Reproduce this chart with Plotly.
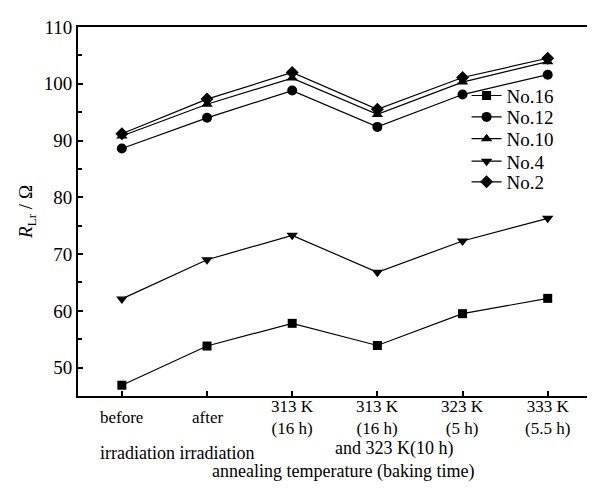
import plotly.graph_objects as go

categories = ["before", "after", "313 K<br>(16 h)", "313 K<br>(16 h)", "323 K<br>(5 h)", "333 K<br>(5.5 h)"]
series_names = ["No.16", "No.12", "No.10", "No.4", "No.2"]
no16 = [46.9, 53.8, 57.8, 53.9, 59.5, 62.2]
no12 = [88.6, 94.0, 98.8, 92.4, 98.1, 101.6]
no10 = [90.8, 96.4, 101.0, 94.6, 100.3, 103.9]
no4 = [62.1, 69.0, 73.3, 66.8, 72.3, 76.3]
no2 = [91.2, 97.3, 102.0, 95.5, 101.1, 104.5]
symbols = ["square", "circle", "triangle-up", "triangle-down", "diamond"]
marker_sizes = [9, 10, 10, 10, 10]
sub_labels = ["irradiation irradiation", "and 323 K(10 h)"]
sub_label_x = [0.65, 3.2]
x_title = "annealing temperature (baking time)"
y_title = "<i>R</i><sub>Lr</sub> / Ω"
y_ticks = [50, 60, 70, 80, 90, 100, 110]

FONT = "Liberation Serif"
xs = list(range(len(categories)))
fig = go.Figure()
legend_rows = [0.814, 0.756, 0.697, 0.636, 0.58]
legend_layout = {}
for i, (name, vals, sym, ms) in enumerate(zip(series_names, [no16, no12, no10, no4, no2], symbols, marker_sizes)):
    lname = "legend" if i == 0 else f"legend{i+1}"
    fig.add_trace(go.Scatter(
        x=xs, y=vals, name=name, mode="lines+markers",
        line=dict(color="black", width=1.2),
        marker=dict(symbol=sym, size=ms, color="black"),
        legend=lname,
    ))
    legend_layout[lname] = dict(x=0.756, y=legend_rows[i], xanchor="left", yanchor="middle",
                                bgcolor="rgba(0,0,0,0)",
                                font=dict(family=FONT, size=19, color="black"))

for x, lab in zip(xs, categories):
    fig.add_annotation(x=x, xref="x", y=-0.057, yref="paper", text=lab,
                       showarrow=False, yanchor="middle", xanchor="center",
                       font=dict(family=FONT, size=17, color="black"))
for x, lab, yy in zip(sub_label_x, sub_labels, [-0.155, -0.142]):
    fig.add_annotation(x=x, xref="x", y=yy, yref="paper", text=lab,
                       showarrow=False, yanchor="middle", xanchor="center",
                       font=dict(family=FONT, size=18, color="black"))
fig.add_annotation(x=0.515, xref="paper", y=-0.205, yref="paper", text=x_title,
                   showarrow=False, yanchor="middle", xanchor="center",
                   font=dict(family=FONT, size=18, color="black"))

fig.update_layout(
    width=595, height=494,
    margin=dict(l=70, r=9, t=12, b=106),
    paper_bgcolor="white", plot_bgcolor="white",
    font=dict(family=FONT, size=17, color="black"),
    showlegend=True,
    xaxis=dict(range=[-0.515, 5.52], tickvals=xs, showticklabels=False,
               ticks="inside", ticklen=5, tickwidth=1.5, tickcolor="black",
               showline=True, linecolor="black", linewidth=2, mirror=True,
               showgrid=False, zeroline=False),
    yaxis=dict(range=[45, 110], tickvals=y_ticks, ticks="inside", ticklen=5,
               tickwidth=1.5, tickcolor="black",
               minor=dict(tickvals=[55, 65, 75, 85, 95, 105], ticks="inside", ticklen=4, tickcolor="black"),
               showline=True, linecolor="black", linewidth=2, mirror=True,
               showgrid=False, zeroline=False,
               tickfont=dict(family=FONT, size=19, color="black"),
               title=dict(text=y_title, font=dict(family=FONT, size=19, color="black"), standoff=6)),
    **legend_layout,
)
fig.write_html("out.html")
